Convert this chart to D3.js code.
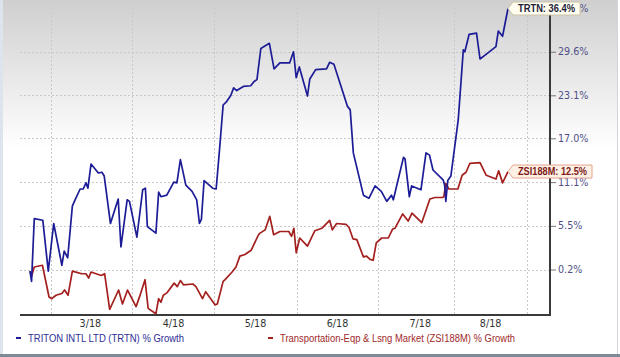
<!DOCTYPE html>
<html><head><meta charset="utf-8">
<script src="https://cdn.jsdelivr.net/npm/d3@7/dist/d3.min.js"></script>
<style>body{margin:0;background:#fff}svg{display:block}</style>
</head><body>
<svg id="c" width="620" height="357"></svg>
<script>
// ---- data (trading-day index, % growth) ----
const trtn = [[0,0.0],[0.4,-1.2],[1.1,6.4],[3.3,6.2],[4.7,0.0],[6.1,5.8],[8.2,0.7],[8.8,2.4],[9.7,1.6],[10.9,8.0],[11.6,8.8],[12.9,10.2],[13.7,10.2],[14.4,11.0],[14.9,10.3],[15.7,13.5],[17.6,12.3],[18.5,12.4],[19.1,11.9],[20.7,5.8],[22.7,8.9],[23.4,2.9],[25.0,8.8],[25.6,8.6],[27.5,4.1],[29.0,10.1],[29.7,10.3],[30.2,5.4],[32.4,4.6],[33.1,9.8],[33.7,9.2],[35.2,9.4],[37.0,11.1],[37.8,11.0],[38.7,14.1],[40.1,10.7],[41.7,9.9],[42.9,8.8],[43.6,5.8],[44.1,6.3],[44.8,11.3],[47.0,10.3],[47.9,10.2],[48.7,15.0],[49.7,21.7],[50.6,22.2],[51.7,23.1],[52.4,24.2],[53.2,23.8],[54.9,24.4],[56.8,24.5],[57.6,25.1],[58.4,25.4],[59.4,30.1],[61.6,30.9],[62.8,27.0],[64.3,27.9],[66.8,27.9],[67.8,29.6],[68.5,25.7],[69.3,27.3],[71.4,23.0],[72.0,25.5],[73.5,26.9],[76.3,27.0],[77.1,28.0],[78.2,27.7],[81.7,21.5],[82.4,21.0],[83.2,15.0],[85.8,9.4],[87.2,9.0],[88.8,10.6],[90.4,9.9],[91.8,8.6],[93.0,9.4],[93.5,8.8],[96.1,14.4],[96.5,14.2],[97.6,9.2],[98.2,10.6],[100.6,10.1],[101.9,15.0],[102.8,14.7],[103.7,12.7],[106.3,11.4],[106.7,10.7],[107.0,8.6],[107.5,11.3],[108.3,11.9],[110.2,19.6],[111.5,29.9],[111.9,29.6],[113.0,32.3],[114.9,32.5],[115.8,28.5],[117.1,29.1],[119.9,30.4],[120.5,32.8],[121.6,32.0],[123.0,36.4]];
const zsi = [[0,0.0],[0.4,-0.6],[1.1,0.5],[3.2,0.7],[4.9,-3.0],[5.6,-3.2],[6.7,-2.8],[8.2,-2.6],[8.9,-2.2],[9.8,-2.8],[10.9,0.0],[13.3,-0.3],[14.4,-0.3],[15.1,-0.8],[15.7,-0.1],[18.3,-0.5],[19.2,-0.3],[20.5,-4.4],[22.8,-2.2],[23.8,-3.8],[25.1,-2.2],[27.3,-4.1],[28.4,-2.7],[29.6,-1.0],[30.4,-4.3],[32.4,-4.9],[33.1,-3.2],[33.7,-3.6],[34.3,-2.8],[35.3,-2.5],[37.1,-1.4],[37.9,-1.8],[38.7,-1.1],[39.5,-1.6],[41.9,-1.5],[42.7,-1.8],[44.4,-3.2],[45.2,-2.4],[47.6,-3.9],[48.2,-3.8],[49.7,-1.2],[50.2,-1.0],[52.0,-0.1],[53.0,0.5],[54.0,1.8],[55.3,2.0],[56.9,2.5],[57.9,3.5],[58.8,4.4],[59.2,4.6],[60.5,5.0],[61.7,6.7],[62.7,4.4],[64.3,4.8],[66.6,4.8],[67.3,4.2],[67.9,5.2],[68.5,2.2],[69.4,4.0],[71.4,3.0],[73.3,4.9],[75.1,5.2],[77.1,6.2],[77.8,5.0],[78.9,5.8],[81.3,5.7],[82.1,5.3],[83.1,3.9],[84.1,3.8],[85.8,1.7],[86.6,1.8],[87.5,1.4],[88.3,1.3],[89.1,3.4],[90.5,4.0],[92.2,4.0],[93.3,5.1],[93.9,5.2],[95.9,7.0],[97.3,6.1],[98.3,7.1],[100.8,5.9],[102.9,8.9],[104.2,9.1],[106.1,9.1],[106.5,9.2],[107.0,10.9],[107.8,10.2],[110.1,10.2],[111.2,12.0],[112.2,12.4],[113.2,13.6],[115.8,13.7],[117.4,12.0],[119.9,11.5],[120.6,12.6],[121.6,11.0],[123.0,12.5]];
const yTicks = [0.2, 5.5, 11.1, 17.0, 23.1, 29.6, 36.4];
const monthGridIdx = [5.3, 26.2, 47.3, 68.6, 89.5, 109.1, 127.9];
const monthLabelIdx = [15.4, 36.8, 57.9, 79.0, 100.3, 118.4];
const monthLabels = ["3/18", "4/18", "5/18", "6/18", "7/18", "8/18"];
const seriesNames = ["TRITON INTL LTD (TRTN) % Growth", "Transportation-Eqp & Lsng Market (ZSI188M) % Growth"];
const endLabels = ["TRTN: 36.4%", "ZSI188M: 12.5%"];
const seriesColors = ["#1c1c96", "#a3201f"];

// ---- layout ----
const W = 620, H = 357;
const plot = {left: 20, right: 550, top: 8, bottom: 315};
const svg = d3.select("#c");

const defs = svg.append("defs");
const g0 = defs.append("linearGradient").attr("id","bg").attr("x1",0).attr("y1",0).attr("x2",0).attr("y2",1);
g0.append("stop").attr("offset","0%").attr("stop-color","#cfcfcf");
g0.append("stop").attr("offset","42%").attr("stop-color","#ffffff");
g0.append("stop").attr("offset","100%").attr("stop-color","#ffffff");

svg.append("rect").attr("width",W).attr("height",H).attr("fill","#ffffff");
svg.append("rect").attr("x",3).attr("y",0).attr("width",614).attr("height",354).attr("fill","url(#bg)");
// frame
svg.append("rect").attr("x",0).attr("y",0).attr("width",3).attr("height",354).attr("fill","#dde4ec");
svg.append("line").attr("x1",617.5).attr("x2",617.5).attr("y1",0).attr("y2",354).attr("stroke","#cfd5db");
svg.append("rect").attr("x",0).attr("y",354).attr("width",W).attr("height",3).attr("fill","#7d8b99");

const x = d3.scaleLinear().domain([0, 123]).range([30, 508]);
const y = d3.scaleLog().domain([1.002, 1.364]).range([269.5, 8.5]);
const yv = v => y(1 + v / 100);

// grid
const grid = svg.append("g").attr("stroke","#c8c8c8").attr("stroke-dasharray","2,2").attr("stroke-width",1);
grid.selectAll("line.h").data(yTicks.slice(0,6)).join("line")
  .attr("x1",plot.left).attr("x2",plot.right)
  .attr("y1",d=>Math.round(yv(d))+0.5).attr("y2",d=>Math.round(yv(d))+0.5);
grid.selectAll("line.v").data(monthGridIdx).join("line")
  .attr("x1",d=>Math.round(x(d))+0.5).attr("x2",d=>Math.round(x(d))+0.5)
  .attr("y1",plot.top).attr("y2",plot.bottom);

// right axis
const yAxis = d3.axisRight(y)
  .tickValues(yTicks.map(v => 1 + v / 100))
  .tickFormat(d => ((d - 1) * 100).toFixed(1) + "%")
  .tickSize(6).tickPadding(2);
const ya = svg.append("g").attr("transform",`translate(${plot.right},0)`).call(yAxis);
ya.select(".domain").remove();
ya.selectAll(".tick line").attr("stroke","#777");
ya.selectAll(".tick text").attr("font-family","DejaVu Sans, Verdana, sans-serif").attr("font-size","9.6px").attr("fill","#4f4f86");
svg.append("line").attr("x1",plot.right).attr("x2",plot.right).attr("y1",5).attr("y2",plot.bottom+1)
  .attr("stroke","#3a3a3a").attr("stroke-width",2);

// bottom axis
const xAxis = d3.axisBottom(x).tickValues(monthLabelIdx).tickFormat((d,i)=>monthLabels[i]).tickSize(0).tickPadding(5);
const xa = svg.append("g").attr("transform",`translate(0,${plot.bottom})`).call(xAxis);
xa.select(".domain").remove();
xa.selectAll(".tick text").attr("font-family","DejaVu Sans, Verdana, sans-serif").attr("font-size","9.6px").attr("fill","#333");
svg.append("line").attr("x1",plot.left).attr("x2",plot.right+1).attr("y1",plot.bottom).attr("y2",plot.bottom)
  .attr("stroke","#3a3a3a").attr("stroke-width",2);

// lines
const line = d3.line().x(d => x(d[0])).y(d => yv(d[1]));
[zsi, trtn].forEach((s, k) => {
  svg.append("path").datum(s).attr("d", line).attr("fill","none")
    .attr("stroke", seriesColors[1 - k]).attr("stroke-width", 1.7).attr("stroke-linejoin","round");
});

// end callouts
const callouts = [
  {s: trtn, text: endLabels[0], w: 72, tl: 57, fill: "#fffdf0", stroke: "#c9c2a6", color: "#1e1e3c"},
  {s: zsi, text: endLabels[1], w: 84, tl: 69, fill: "#fdf1e6", stroke: "#e2a58f", color: "#7d1a17"}
];
callouts.forEach(c => {
  const last = c.s[c.s.length - 1];
  const tx = x(last[0]), ty = yv(last[1]);
  const h = 13, p = 5;
  const path = `M${tx},${ty} L${tx+p},${ty-h/2} H${tx+c.w} V${ty+h/2} H${tx+p} Z`;
  svg.append("path").attr("d", path).attr("fill", c.fill).attr("stroke", c.stroke).attr("stroke-width", 1);
  svg.append("text").attr("x", tx + p + 5).attr("y", ty + 3.5).text(c.text)
    .attr("font-family","Liberation Sans, Arial, sans-serif").attr("font-weight","bold").attr("font-size","10px")
    .attr("fill", c.color).attr("textLength", c.tl).attr("lengthAdjust","spacingAndGlyphs");
});

// legend
const legX = [16, 268], legTL = [156, 235];
seriesNames.forEach((n, i) => {
  svg.append("line").attr("x1", legX[i]).attr("x2", legX[i] + 5).attr("y1", 338).attr("y2", 338)
    .attr("stroke", seriesColors[i]).attr("stroke-width", 2);
  svg.append("text").attr("x", legX[i] + 12).attr("y", 341.5).text(n)
    .attr("font-family","Liberation Sans, Arial, sans-serif").attr("font-size","10px")
    .attr("fill", i === 0 ? "#2e2e96" : "#a02a2a")
    .attr("textLength", legTL[i]).attr("lengthAdjust","spacingAndGlyphs");
});
</script>
</body></html>
